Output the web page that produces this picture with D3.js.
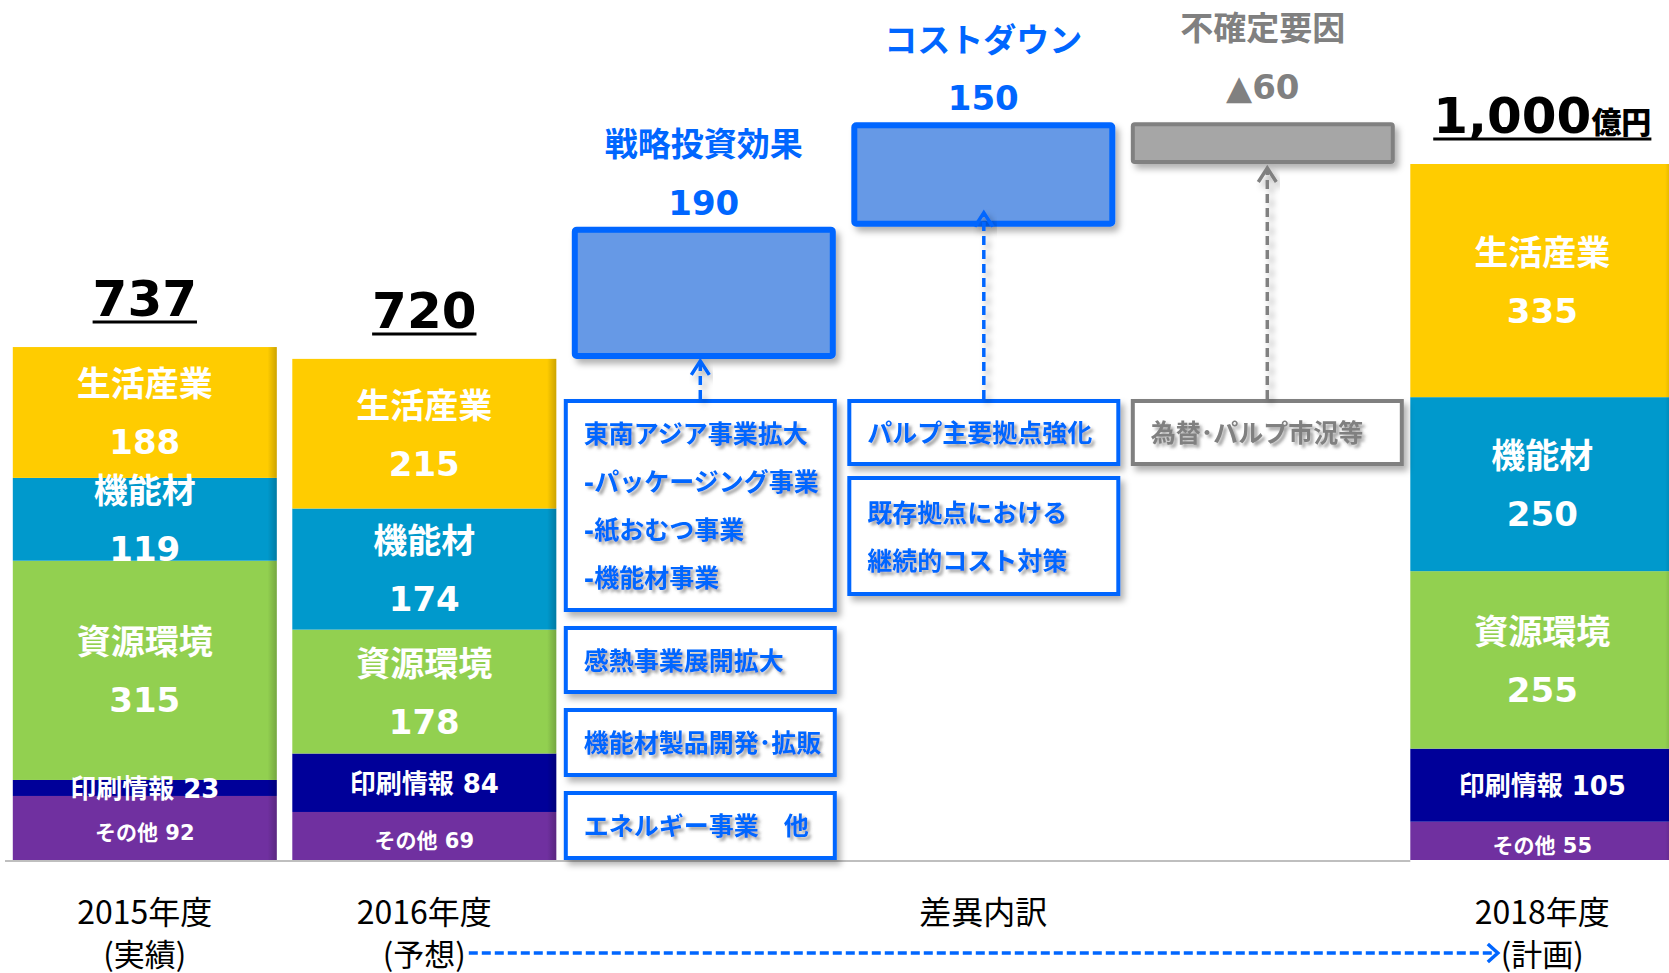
<!DOCTYPE html>
<html><head><meta charset="utf-8">
<script src="https://cdn.jsdelivr.net/npm/d3@7"></script>
<style>html,body{margin:0;padding:0;background:#fff;overflow:hidden}svg{display:block}</style>
</head><body><svg id="c" width="1669" height="973"></svg>
<script>
// ---- data ----
const slots = ["2015","2016","戦略投資効果","コストダウン","不確定要因","2018"];
const segmentNames = ["その他","印刷情報","資源環境","機能材","生活産業"];
const segmentColors = ["#7030A0","#000099","#92D050","#0099CC","#FFCC00"];
const values2015 = [92,23,315,119,188];
const values2016 = [69,84,178,174,215];
const values2018 = [55,105,255,250,335];
const yearLabels = ["2015年度","2016年度","2018年度"];
const yearNotes = ["(実績)","(予想)","(計画)"];
const totalLabels = ["737","720","1,000"];
const bridgeNames = ["戦略投資効果","コストダウン","不確定要因"];
const bridgeValues = [190,150,-60];
const bridgeValueLabels = ["190","150","▲60"];
const annotations0 = [["東南アジア事業拡大","-パッケージング事業","-紙おむつ事業","-機能材事業"],["感熱事業展開拡大"],["機能材製品開発･拡販"],["エネルギー事業　他"]];
const annotations1 = [["パルプ主要拠点強化"],["既存拠点における","継続的コスト対策"]];
const annotations2 = [["為替･パルプ市況等"]];
const middleLabel = "差異内訳";

// ---- layout ----
const FJ = "'Noto Sans CJK JP', sans-serif";
const FN = "'DejaVu Sans','Noto Sans CJK JP', sans-serif";
const BLUE = "#0066FF", GREY = "#808080";
const svg = d3.select("#c");
const x = d3.scaleBand().domain(slots).range([12.8, 1674.3]).paddingInner(0.0555).paddingOuter(0);
const y = d3.scaleLinear().domain([0, 1000]).range([860, 164]);
const bw = x.bandwidth();

const defs = svg.append("defs");
defs.append("filter").attr("id","boxShadow").attr("x","-10%").attr("y","-10%").attr("width","130%").attr("height","150%")
  .append("feDropShadow").attr("dx",4).attr("dy",5).attr("stdDeviation",3).attr("flood-color","#000").attr("flood-opacity",0.3);
defs.append("filter").attr("id","textShadow").attr("x","-10%").attr("y","-30%").attr("width","130%").attr("height","180%")
  .append("feDropShadow").attr("dx",3).attr("dy",3).attr("stdDeviation",1.6).attr("flood-color","#555").attr("flood-opacity",0.55);
const eg = defs.append("linearGradient").attr("id","edge").attr("x1",0).attr("x2",1).attr("y1",0).attr("y2",0);
eg.append("stop").attr("offset",0).attr("stop-color","#000").attr("stop-opacity",0);
eg.append("stop").attr("offset",0.965).attr("stop-color","#000").attr("stop-opacity",0);
eg.append("stop").attr("offset",1).attr("stop-color","#000").attr("stop-opacity",0.2);

// baseline
svg.append("line").attr("x1",5).attr("x2",x("2018")).attr("y1",y(0)+1).attr("y2",y(0)+1)
  .attr("stroke","#BFBFBF").attr("stroke-width",2);

// ---- stacked bars ----
const bars = [
  {slot:"2015", values:values2015, year:yearLabels[0], note:yearNotes[0], total:totalLabels[0]},
  {slot:"2016", values:values2016, year:yearLabels[1], note:yearNotes[1], total:totalLabels[1]},
  {slot:"2018", values:values2018, year:yearLabels[2], note:yearNotes[2], total:totalLabels[2]}
];
const noteNodes = {};
const NOTE_Y = 952;
bars.forEach(b => {
  let cum = 0;
  const segs = b.values.map((v,i) => { const s = {name:segmentNames[i], v, y0:cum, y1:cum+v, color:segmentColors[i], i}; cum += v; return s; });
  const gb = svg.append("g");
  const bx = x(b.slot), cx = bx + bw/2;
  gb.selectAll("rect.seg").data(segs).join("rect").attr("class","seg")
    .attr("x",bx).attr("width",bw).attr("y",d=>y(d.y1)).attr("height",d=>y(d.y0)-y(d.y1)).attr("fill",d=>d.color);
  gb.selectAll("rect.edge").data(segs).join("rect").attr("class","edge")
    .attr("x",bx).attr("width",bw).attr("y",d=>y(d.y1)).attr("height",d=>y(d.y0)-y(d.y1)).attr("fill","url(#edge)");
  segs.forEach(d => {
    const mid = (y(d.y0)+y(d.y1))/2;
    const t = gb.append("g").attr("fill","#fff").attr("font-family",FN).attr("font-weight",700).attr("text-anchor","middle");
    if (d.i >= 2) {
      t.append("text").attr("x",cx).attr("y",mid-28).attr("dominant-baseline","central").attr("font-size",34).text(d.name);
      t.append("text").attr("x",cx).attr("y",mid+30).attr("dominant-baseline","central").attr("font-size",34).text(d.v);
    } else if (d.i === 1) {
      t.append("text").attr("x",cx).attr("y",mid+1).attr("dominant-baseline","central").attr("font-size",26).text(d.name+" "+d.v);
    } else {
      t.append("text").attr("x",cx).attr("y",mid+5).attr("dominant-baseline","central").attr("font-size",21).text(d.name+" "+d.v);
    }
  });
  // total
  const base = y(cum) - 31;
  const tt = svg.append("text").attr("x",cx).attr("y",base).attr("text-anchor","middle")
    .attr("font-family",FN).attr("font-weight",700).attr("fill","#000");
  tt.append("tspan").attr("font-size",50).text(b.total);
  if (b.slot === "2018") tt.append("tspan").attr("font-size",30).attr("font-family",FJ).attr("font-weight",900).text("億円");
  const bb = tt.node().getBBox();
  svg.append("line").attr("x1",bb.x).attr("x2",bb.x+bb.width).attr("y1",base+6).attr("y2",base+6)
    .attr("stroke","#000").attr("stroke-width",3);
  // axis labels
  svg.append("text").attr("x",cx).attr("y",910).attr("text-anchor","middle").attr("dominant-baseline","central")
    .attr("font-family",FJ).attr("font-size",32).attr("fill","#000").text(b.year);
  noteNodes[b.slot] = svg.append("text").attr("x",cx).attr("y",NOTE_Y).attr("text-anchor","middle").attr("dominant-baseline","central")
    .attr("font-family",FJ).attr("font-size",31).attr("fill","#000").text(b.note);
});

// middle label
svg.append("text").attr("x",x("コストダウン")+bw/2).attr("y",910).attr("text-anchor","middle").attr("dominant-baseline","central")
  .attr("font-family",FJ).attr("font-size",32).attr("fill","#000").text(middleLabel);

// ---- bridge ----
const annotations = [annotations0, annotations1, annotations2];
const annotBoxes = [
  [[399,612],[626,694],[708,777],[791,860]],
  [[399,466],[476,596]],
  [[399,466]]
];
const arrowTipOffset = [1,-15,3];
const ANNOT_W = 273;
let run = d3.sum(values2016);
bridgeNames.forEach((name,i) => {
  const v = bridgeValues[i];
  const start = run, end = run + v; run = end;
  const top = y(Math.max(start,end)), bottom = y(Math.min(start,end));
  const slot = slots[2+i], bx = x(slot), cx = bx + bw/2;
  const neg = v < 0;
  const col = neg ? GREY : BLUE;
  const sw = neg ? 4 : 6;
  const x0 = bx - 8 + 4*i, x1 = x0 + ANNOT_W, acx = (x0+x1)/2;
  // annotation boxes
  annotBoxes[i].forEach((bxs,k) => {
    svg.append("rect").attr("x",x0+2).attr("y",bxs[0]+2).attr("width",x1-x0-4).attr("height",bxs[1]-bxs[0]-4)
      .attr("fill","#fff").attr("stroke",col).attr("stroke-width",4).attr("filter","url(#boxShadow)");
    const lines = annotations[i][k];
    const c = (bxs[0]+bxs[1])/2 + 1;
    lines.forEach((ln,j) => {
      svg.append("text").attr("x",x0+20).attr("y",c+(j-(lines.length-1)/2)*48).attr("dominant-baseline","central")
        .attr("font-family",FN).attr("font-weight",700).attr("font-size",25).attr("fill",col)
        .attr("filter","url(#textShadow)").text(ln);
    });
  });
  // box
  svg.append("rect").attr("x",bx+sw/2).attr("y",top+sw/2).attr("width",bw-sw).attr("height",bottom-top-sw).attr("rx",2)
    .attr("fill",neg ? "#A6A6A6" : "#6699E6").attr("stroke",col).attr("stroke-width",sw).attr("filter","url(#boxShadow)");
  // arrow
  const tip = bottom + arrowTipOffset[i];
  const ag = svg.append("g").attr("stroke",col).attr("stroke-width",3.5).attr("fill","none").attr("filter","url(#boxShadow)");
  ag.append("line").attr("x1",acx).attr("x2",acx).attr("y1",annotBoxes[i][0][0]).attr("y2",tip+2).attr("stroke-dasharray","9,5");
  ag.append("path").attr("d",`M${acx-9},${tip+15}L${acx},${tip+1}L${acx+9},${tip+15}`);
  // labels
  svg.append("text").attr("x",cx).attr("y",top-(neg?35:24)).attr("text-anchor","middle").attr("dominant-baseline","central")
    .attr("font-family",FN).attr("font-weight",700).attr("font-size",34).attr("fill",col).text(bridgeValueLabels[i]);
  svg.append("text").attr("x",cx).attr("y",top-(neg?94:82)).attr("text-anchor","middle").attr("dominant-baseline","central")
    .attr("font-family",FN).attr("font-weight",700).attr("font-size",33).attr("fill",col).text(name);
});

// bottom dashed arrow
const nb1 = noteNodes["2016"].node().getBBox(), nb2 = noteNodes["2018"].node().getBBox();
const ax0 = nb1.x + nb1.width + 3, ax1 = nb2.x - 3, ay = NOTE_Y + 1;
svg.append("line").attr("x1",ax0).attr("x2",ax1-2).attr("y1",ay).attr("y2",ay)
  .attr("stroke",BLUE).attr("stroke-width",3.5).attr("stroke-dasharray","9,4");
svg.append("path").attr("d",`M${ax1-10},${ay-9}L${ax1},${ay}L${ax1-10},${ay+9}`)
  .attr("stroke",BLUE).attr("stroke-width",3.5).attr("fill","none");
</script></body></html>
